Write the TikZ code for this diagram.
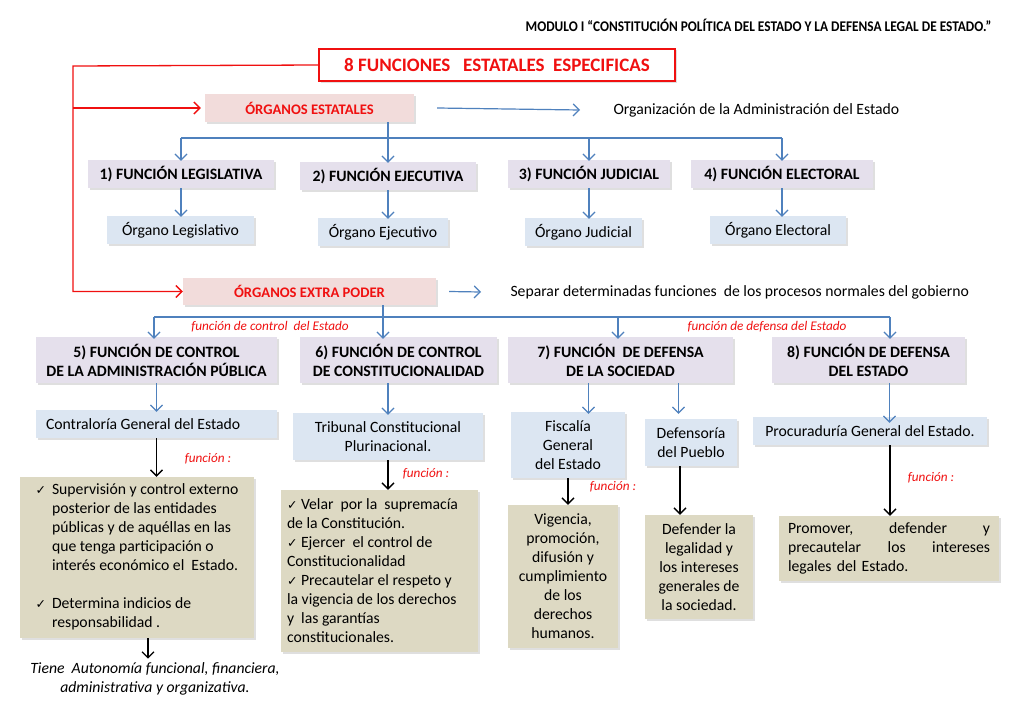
\documentclass[tikz,border=0pt]{standalone}
\usepackage{fontspec}
\setmainfont{Carlito}
\newfontfamily\symfont{DejaVu Sans}
\usetikzlibrary{arrows.meta,shadows}

\definecolor{lav}{HTML}{E5E0EC}
\definecolor{lblue}{HTML}{DCE6F2}
\definecolor{pinkfill}{HTML}{F2DCDB}
\definecolor{tanfill}{HTML}{DDD9C3}
\definecolor{blline}{HTML}{4F81BD}
\definecolor{rdline}{HTML}{F01010}

\newcommand\fN{\fontsize{15.7}{19}\selectfont}
\newcommand\fB{\fontsize{15.8}{19}\selectfont\bfseries}
\newcommand\fR{\fontsize{13.2}{15}\selectfont\itshape}
\newcommand\chk{{\symfont\fontsize{12.5}{12}\selectfont ✓}}

\begin{document}
\begin{tikzpicture}[x=1pt,y=-1pt,
    box/.style={inner sep=0pt, drop shadow={opacity=0.25,shadow xshift=1.5pt,shadow yshift=-1.5pt}},
    func/.style={box, fill=lav, font=\fB, align=center},
    organ/.style={box, fill=lblue, font=\fN, align=center},
    redbox/.style={box, fill=pinkfill, text=rdline, font=\fontsize{14.6}{17}\selectfont\bfseries},
    tanbox/.style={box, fill=tanfill, font=\fN},
    redlbl/.style={text=rdline, font=\fR},
    bl/.style={draw=blline, line width=1.2pt},
    blarrow/.style={bl, -{Straight Barb[length=6pt,width=12pt]}},
    blk/.style={draw=black, line width=1.3pt, -{Straight Barb[length=6pt,width=12pt]}},
    rd/.style={draw=rdline, line width=1.3pt, -{Straight Barb[length=6pt,width=12pt]}}]

    \useasboundingbox[fill=white] (0,0) rectangle (1024,709);

    % cabecera
    \node [anchor=east, font=\fontsize{14.8}{16}\selectfont\bfseries] (hdr) at (995,25)
        {\scalebox{0.9}[1]{MODULO I “CONSTITUCIÓN POLÍTICA DEL ESTADO Y LA DEFENSA LEGAL DE ESTADO.”}};
    \node [box, fill=white, draw=rdline, line width=1.3pt, text=rdline,
        font=\fontsize{19}{22}\selectfont\bfseries, minimum width=356, minimum height=32] (tit) at (497,65)
        {8 FUNCIONES \ \ ESTATALES \ ESPECIFICAS};

    % organos estatales
    \node [redbox, minimum width=209, minimum height=28] (oe) at (309.5,108) {ÓRGANOS ESTATALES};
    \node [anchor=west, font=\fN] (org) at (610,110) {Organización de la Administración del Estado};

    \node [func, minimum width=186, minimum height=28] (f1) at (181,174) {1) FUNCIÓN LEGISLATIVA};
    \node [func, minimum width=176, minimum height=28] (f2) at (388,176) {2) FUNCIÓN EJECUTIVA};
    \node [func, minimum width=162, minimum height=28] (f3) at (589,174) {3) FUNCIÓN JUDICIAL};
    \node [func, minimum width=182, minimum height=28] (f4) at (782,174) {4) FUNCIÓN ELECTORAL};

    \node [organ, minimum width=147, minimum height=28] (o1) at (180.5,230) {Órgano Legislativo};
    \node [organ, minimum width=130, minimum height=28] (o2) at (383,232) {Órgano Ejecutivo};
    \node [organ, minimum width=117, minimum height=28] (o3) at (583.5,232) {Órgano Judicial};
    \node [organ, minimum width=136, minimum height=28] (o4) at (778,230) {Órgano Electoral};

    % organos extra poder
    \node [redbox, minimum width=253, minimum height=27] (ep) at (309.5,291.5) {ÓRGANOS EXTRA PODER};
    \node [anchor=west, font=\fN] (sep) at (507,292) {Separar determinadas funciones \ de los procesos normales del gobierno};

    \node [func, minimum width=241, minimum height=46] (f5) at (156.5,360) {5) FUNCIÓN DE CONTROL\\DE LA ADMINISTRACIÓN PÚBLICA};
    \node [func, minimum width=197, minimum height=46] (f6) at (398.5,360) {6) FUNCIÓN DE CONTROL\\DE CONSTITUCIONALIDAD};
    \node [func, minimum width=225, minimum height=46] (f7) at (620.5,360) {7) FUNCIÓN \ DE DEFENSA\\DE LA SOCIEDAD};
    \node [func, minimum width=193, minimum height=46] (f8) at (868.5,360) {8) FUNCIÓN DE DEFENSA\\DEL ESTADO};

    \node [redlbl] (lc) at (270,327) {función de control \ del Estado};
    \node [redlbl] (ld) at (767,327) {función de defensa del Estado};

    \node [organ, minimum height=28, text width=221, inner xsep=10pt, align=flush left] (c5) at (156.5,424) {Contraloría General del Estado};
    \node [organ, minimum width=190, minimum height=47] (t6) at (388,436.5) {Tribunal Constitucional\\Plurinacional.};
    \node [organ, minimum width=114, minimum height=66] (fg) at (568,445) {Fiscalía\\General\\del Estado};
    \node [organ, minimum width=92, minimum height=47] (dp) at (691,442.5) {Defensoría\\del Pueblo};
    \node [organ, minimum width=234, minimum height=28] (pg) at (870,431) {Procuraduría General del Estado.};

    \node [tanbox, minimum width=234, minimum height=161] (tk5) at (137,557.5)
        {\begin{tabular}{@{}l@{\hspace{6pt}}l@{}}
            \chk & Supervisión y control externo\\
                 & posterior de las entidades\\
                 & públicas y de aquéllas en las\\
                 & que tenga participación o\\
                 & interés económico el \ Estado.\\[19pt]
            \chk & Determina indicios de\\
                 & responsabilidad .
        \end{tabular}};
    \node [tanbox, minimum width=197, minimum height=162, text width=185, align=flush left] (tk6) at (379.5,571)
        {\chk\ Velar \ por la \ supremacía\\de la Constitución.\\\chk\ Ejercer \ el control de\\Constitucionalidad\\
         \chk\ Precautelar el respeto y\\la vigencia de los derechos\\y \ las garantías\\constitucionales.};
    \node [tanbox, minimum width=110, minimum height=143, align=center] (tfg) at (563,576.5)
        {Vigencia,\\promoción,\\difusión y\\cumplimiento\\de los\\derechos\\humanos.};
    \node [tanbox, minimum width=108, minimum height=104, align=center] (tdp) at (699,567)
        {Defender la\\legalidad y\\los intereses\\generales de\\la sociedad.};
    \node [tanbox, minimum height=65, text width=202, inner xsep=9pt, align=left] (tpg) at (889,548.5)
        {Promover,\hfill defender\hfill y\\precautelar\hfill los\hfill intereses\\legales del Estado.};

    \node [redlbl] (fn5) at (208,459) {función :};
    \node [redlbl] (fn6) at (426,474) {función :};
    \node [redlbl] (fn7) at (613,487) {función :};
    \node [redlbl] (fn8) at (931,478) {función :};

    \node [font=\fN\itshape, align=center] (aut) at (155,678.5)
        {Tiene \ Autonomía funcional, financiera,\\administrativa y organizativa.};

    % conectores rojos
    \coordinate (rl) at (73,66);
    \draw [rd] (tit.west) -- (rl) -- (rl |- ep.west) -- (ep.west);
    \draw [rd] (rl |- oe.west) -- ([xshift=-4]oe.west);

    % conectores azules
    \draw [blarrow] ([xshift=23]oe.east) -- ([xshift=-30]org.west);
    \draw [blarrow] ([xshift=13]ep.east) -- ([xshift=-26]sep.west);

    \coordinate (bus1) at (388,138);
    \draw [bl] (oe.south -| bus1) -- (bus1);
    \draw [bl] (f1.north |- bus1) -- (f4.north |- bus1);
    \foreach \f in {f1,f2,f3,f4}
        \draw [blarrow] (\f.north |- bus1) -- ([yshift=-1]\f.north);
    \foreach \f/\o in {f1/o1,f2/o2,f3/o3,f4/o4}
        \draw [blarrow] (\f.south) -- ([yshift=-1]\f.south |- \o.north);

    \coordinate (bus2) at (383,317);
    \draw [bl] (ep.south -| bus2) -- (bus2);
    \draw [bl] (154,317) -- (890,317);
    \foreach \x/\f in {154/f5,383/f6,618/f7,890/f8}
        \draw [blarrow] (\x,317) -- ([yshift=-2]\f.north -| \x,0);

    \draw [blarrow] (f5.south) -- ([yshift=-2]c5.north);
    \draw [blarrow] (t6.north |- f6.south) -- ([yshift=-2]t6.north);
    \draw [blarrow] ([xshift=-32]f7.south) -- ([xshift=-32,yshift=-2]f7.south |- fg.north);
    \draw [blarrow] ([xshift=58]f7.south) -- ([xshift=58,yshift=-2]f7.south |- fg.north);
    \draw [blarrow] ([xshift=21]f8.south) -- ([xshift=21,yshift=-6]f8.south |- pg.north);

    % conectores negros
    \draw [blk] (c5.south) -- (c5.south |- tk5.north);
    \draw [blk] (t6.south) -- (t6.south |- tk6.north);
    \draw [blk] (fg.south) -- (fg.south |- tfg.north);
    \draw [blk] ([xshift=-11]dp.south) -- ([xshift=-11]dp.south |- tdp.north);
    \draw [blk] ([xshift=20]pg.south) -- ([xshift=20]pg.south |- tpg.north);
    \draw [blk] ([xshift=11]tk5.south) -- ([xshift=11]tk5.south |- aut.north);
\end{tikzpicture}
\end{document}
